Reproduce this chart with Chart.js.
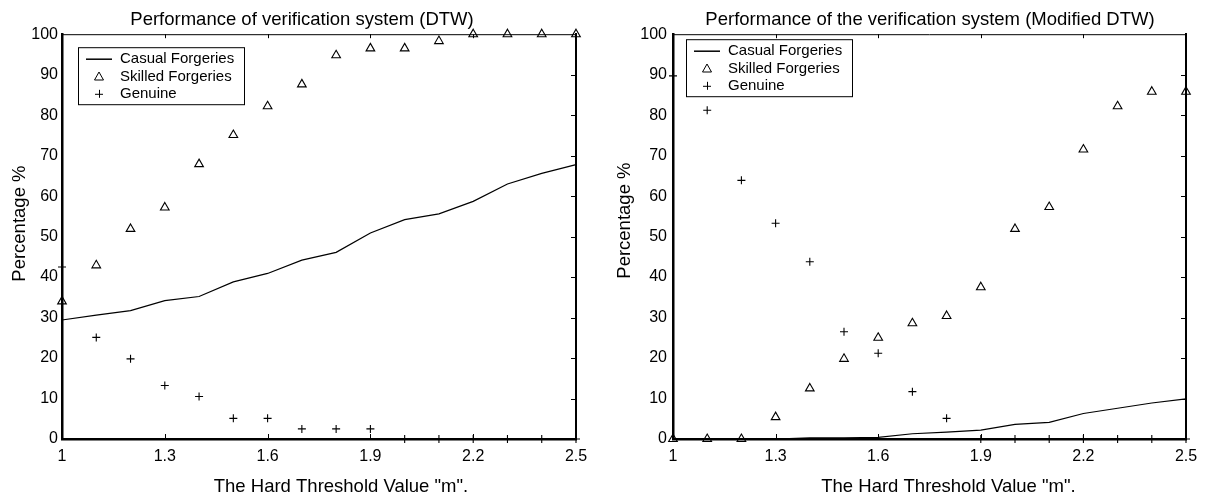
<!DOCTYPE html>
<html>
<head>
<meta charset="utf-8">
<script src="https://cdn.jsdelivr.net/npm/chart.js@4.4.0/dist/chart.umd.min.js"></script>
<style>
  html, body { margin: 0; padding: 0; background: #fff; overflow: hidden; width: 1207px; height: 494px; }
  .panel { position: absolute; top: 0; height: 494px; }
  #left { left: 0; width: 604px; }
  #right { left: 603px; width: 654px; }
</style>
</head>
<body>
<div class="panel" id="left"><canvas id="dtw" width="604" height="494"></canvas></div>
<div class="panel" id="right"><canvas id="mdtw" width="654" height="494"></canvas></div>
<script>
// hard threshold values "m"
const thresholds = [1.0, 1.1, 1.2, 1.3, 1.4, 1.5, 1.6, 1.7, 1.8, 1.9, 2.0, 2.1, 2.2, 2.3, 2.4, 2.5];
const xTicks = [1, 1.3, 1.6, 1.9, 2.2, 2.5];

// DTW
const dtwCasual  = [29.4, 30.6, 31.7, 34.2, 35.2, 38.8, 40.9, 44.2, 46.1, 50.9, 54.2, 55.6, 58.7, 63.0, 65.6, 67.8];
const dtwSkilled = [34.0, 42.9, 51.9, 57.2, 67.9, 75.1, 82.2, 87.6, 94.8, 96.5, 96.5, 98.3, 100, 100, 100, 100];
const dtwGenuine = [42.5, 25.1, 19.8, 13.2, 10.5, 5.1, 5.1, 2.5, 2.5, 2.5, 0, 0, 0, 0, 0, 0];

// Modified DTW
const mdtwCasual  = [0, 0, 0, 0, 0.3, 0.3, 0.4, 1.3, 1.7, 2.2, 3.6, 4.1, 6.3, 7.6, 8.9, 9.9];
const mdtwSkilled = [0, 0, 0, 5.4, 12.5, 19.8, 25.0, 28.6, 30.4, 37.5, 51.9, 57.3, 71.5, 82.2, 85.8, 85.8];
const mdtwGenuine = [89.7, 81.2, 63.9, 53.3, 43.8, 26.5, 21.2, 11.7, 5.1, 0, 0, 0, 0, 0, 0, 0];

const FONT = '"Liberation Sans", Arial, Helvetica, sans-serif';
Chart.defaults.font.family = FONT;
Chart.defaults.color = '#000';

const pts = (ys) => thresholds.map((x, i) => ({ x: x, y: ys[i] }));

// matlab style frame: thin top line and short inward ticks
const frameTicks = {
  id: 'frameTicks',
  afterDraw(chart) {
    const { ctx, chartArea: a } = chart;
    const xs = chart.scales.x, ys = chart.scales.y;
    ctx.save();
    ctx.strokeStyle = '#000';
    ctx.lineWidth = 1;
    ctx.beginPath();
    ctx.moveTo(a.left, a.top + 0.5);
    ctx.lineTo(a.right, a.top + 0.5);
    xTicks.slice(1, -1).forEach(v => {
      const px = Math.round(xs.getPixelForValue(v)) + 0.5;
      ctx.moveTo(px, a.top);
      ctx.lineTo(px, a.top + 4);
      ctx.moveTo(px, a.bottom);
      ctx.lineTo(px, a.bottom - 5);
    });
    for (let v = 10; v < 100; v += 10) {
      const py = Math.round(ys.getPixelForValue(v)) + 0.5;
      ctx.moveTo(a.right, py);
      ctx.lineTo(a.right - 5, py);
    }
    ctx.stroke();
    ctx.restore();
  }
};

// axis titles placed like the original (slightly off centre)
const axisTitles = {
  id: 'axisTitles',
  afterDraw(chart, args, o) {
    const { ctx, chartArea: a } = chart;
    ctx.save();
    ctx.fillStyle = '#000';
    ctx.font = '18.5px ' + FONT;
    ctx.textAlign = 'center';
    ctx.textBaseline = 'alphabetic';
    ctx.fillText(o.x, (a.left + a.right) / 2 + o.dx, 492);
    ctx.translate(o.yX, (a.top + a.bottom) / 2 + o.dy);
    ctx.rotate(-Math.PI / 2);
    ctx.textBaseline = 'middle';
    ctx.fillText(o.y, 0, 0);
    ctx.restore();
  }
};

// boxed legend inside the plot
const boxLegend = {
  id: 'boxLegend',
  afterDraw(chart, args, o) {
    const { ctx, chartArea: a } = chart;
    const x0 = a.left + o.x, y0 = a.top + o.y;
    ctx.save();
    ctx.fillStyle = '#fff';
    ctx.fillRect(x0, y0, 166, 57);
    ctx.strokeStyle = '#000';
    ctx.lineWidth = 1;
    ctx.strokeRect(x0 + 0.5, y0 + 0.5, 166, 57);
    ctx.font = '15px ' + FONT;
    ctx.textBaseline = 'middle';
    ctx.textAlign = 'left';
    chart.data.datasets.forEach((ds, i) => {
      const cy = y0 + 12 + i * 17.3;
      const cx = x0 + 21;
      ctx.beginPath();
      if (ds.showLine) {
        ctx.lineWidth = 1.5;
        ctx.moveTo(x0 + 8, cy);
        ctx.lineTo(x0 + 34, cy);
      } else if (ds.pointStyle === 'triangle') {
        ctx.lineWidth = 1;
        ctx.moveTo(cx, cy - 4.5);
        ctx.lineTo(cx + 4.5, cy + 3.5);
        ctx.lineTo(cx - 4.5, cy + 3.5);
        ctx.closePath();
      } else {
        ctx.lineWidth = 1;
        ctx.moveTo(cx - 4, cy + 0.5);
        ctx.lineTo(cx + 4, cy + 0.5);
        ctx.moveTo(cx + 0.5, cy - 4);
        ctx.lineTo(cx + 0.5, cy + 4);
      }
      ctx.stroke();
      ctx.fillStyle = '#000';
      ctx.fillText(ds.label, x0 + 42, cy);
    });
    ctx.restore();
  }
};

function makeChart(id, p) {
  return new Chart(document.getElementById(id), {
    type: 'line',
    data: {
      datasets: [
        { label: 'Casual Forgeries', data: pts(p.casual), showLine: true, borderColor: '#000',
          borderWidth: 1.2, pointRadius: 0, tension: 0, clip: false },
        { label: 'Skilled Forgeries', data: pts(p.skilled), showLine: false, pointStyle: 'triangle',
          pointRadius: 5, borderColor: '#000', backgroundColor: 'rgba(0,0,0,0)', pointBorderWidth: 1.1, clip: false },
        { label: 'Genuine', data: pts(p.genuine), showLine: false, pointStyle: 'cross',
          pointRadius: 4, borderColor: '#000', pointBorderWidth: 1.1, clip: false }
      ]
    },
    options: {
      responsive: false,
      animation: false,
      devicePixelRatio: 1,
      layout: { padding: 0 },
      scales: {
        x: {
          type: 'linear', min: 1, max: 2.5,
          afterBuildTicks: s => { s.ticks = xTicks.map(v => ({ value: v })); },
          afterFit: s => { s.height = 55; },
          grid: { display: false, drawTicks: false },
          border: { display: true, color: '#000', width: 2.5 },
          ticks: { color: '#000', padding: 8, font: { size: 16 }, callback: v => String(+v.toFixed(1)) }
        },
        y: {
          type: 'linear', min: 0, max: 100,
          afterFit: s => { s.width = p.yWidth; },
          grid: { display: false, drawTicks: false },
          border: { display: true, color: '#000', width: 2.5 },
          ticks: { color: '#000', stepSize: 10, padding: p.tickPad, font: { size: 16 } }
        },
        y2: {
          type: 'linear', position: 'right', min: 0, max: 100,
          afterFit: s => { s.width = p.rightWidth; },
          grid: { display: false, drawTicks: false },
          border: { display: true, color: '#000', width: 2 },
          ticks: { display: false }
        }
      },
      plugins: {
        legend: { display: false },
        tooltip: { enabled: false },
        title: {
          display: true, text: p.title, color: '#000',
          font: { size: 18.5, weight: 'normal' },
          padding: { top: 9, bottom: 3 }
        },
        boxLegend: p.legend,
        axisTitles: { x: 'The Hard Threshold Value "m".', y: 'Percentage %', dx: p.xdx, dy: p.ydy, yX: p.yX }
      }
    },
    plugins: [frameTicks, axisTitles, boxLegend]
  });
}

makeChart('dtw', {
  title: 'Performance of verification system (DTW)',
  casual: dtwCasual, skilled: dtwSkilled, genuine: dtwGenuine,
  yWidth: 62, rightWidth: 28, tickPad: 4,
  legend: { x: 16, y: 13 }, xdx: 22, ydy: -13, yX: 20
});

makeChart('mdtw', {
  title: 'Performance of the verification system (Modified DTW)',
  casual: mdtwCasual, skilled: mdtwSkilled, genuine: mdtwGenuine,
  yWidth: 70, rightWidth: 71, tickPad: 6,
  legend: { x: 13, y: 5 }, xdx: 19, ydy: -16, yX: 22
});
</script>
</body>
</html>
